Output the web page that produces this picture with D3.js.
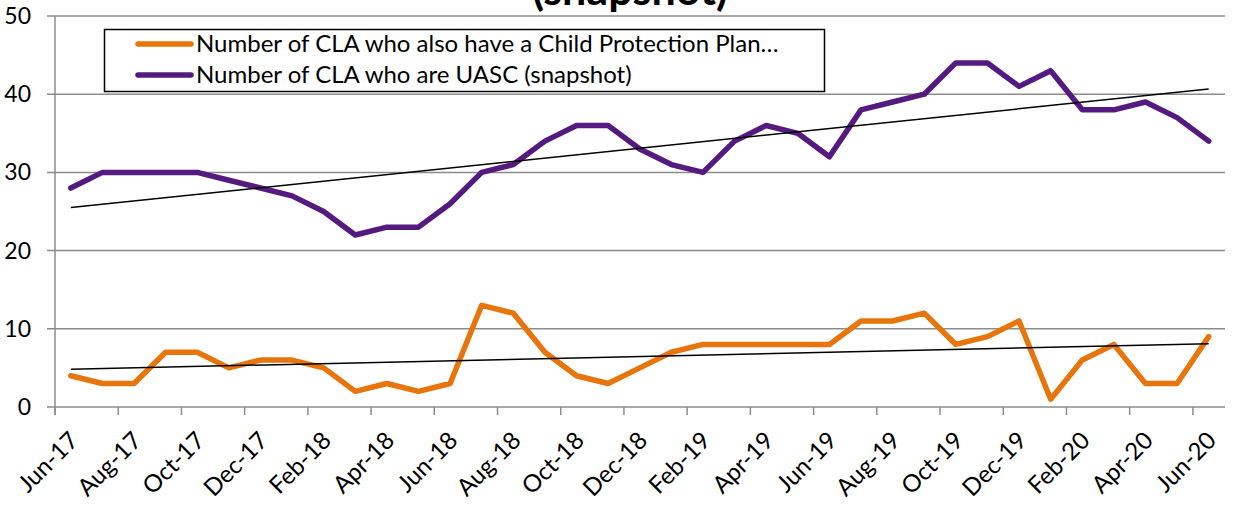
<!DOCTYPE html>
<html><head><meta charset="utf-8">
<script src="https://cdn.jsdelivr.net/npm/d3@7"></script>
<style>body{margin:0;background:#fff;} text{font-family:Lato,"Open Sans",sans-serif;}</style>
</head><body><svg id="c" width="1238" height="505"></svg>
<script>
const months = ["Jun-17","Jul-17","Aug-17","Sep-17","Oct-17","Nov-17","Dec-17","Jan-18","Feb-18","Mar-18","Apr-18","May-18","Jun-18","Jul-18","Aug-18","Sep-18","Oct-18","Nov-18","Dec-18","Jan-19","Feb-19","Mar-19","Apr-19","May-19","Jun-19","Jul-19","Aug-19","Sep-19","Oct-19","Nov-19","Dec-19","Jan-20","Feb-20","Mar-20","Apr-20","May-20","Jun-20"];
const cppValues = [4,3,3,7,7,5,6,6,5,2,3,2,3,13,12,7,4,3,5,7,8,8,8,8,8,11,11,12,8,9,11,1,6,8,3,3,9];
const uascValues = [28,30,30,30,30,29,28,27,25,22,23,23,26,30,31,34,36,36,33,31,30,34,36,35,32,38,39,40,44,44,41,43,38,38,39,37,34];
const seriesNames = ["Number of CLA who also have a Child Protection Plan…","Number of CLA who are UASC (snapshot)"];
const yTicks = [0,10,20,30,40,50];
const titleText = "(snapshot)";

const svg = d3.select("#c");
const x = d3.scaleBand().domain(months).range([55,1224.5]).paddingInner(0).paddingOuter(0);
const y = d3.scaleLinear().domain([0,50]).range([407,16]);
const cx = m => x(m) + x.bandwidth()/2;

// gridlines
svg.append("g").selectAll("line").data(yTicks).join("line")
  .attr("x1",47).attr("x2",1225).attr("y1",d=>y(d)).attr("y2",d=>y(d))
  .attr("stroke","#8c8c8c").attr("stroke-width",1.5);
// y axis line
svg.append("line").attr("x1",55).attr("x2",55).attr("y1",y(50)).attr("y2",y(0)+8)
  .attr("stroke","#8c8c8c").attr("stroke-width",1.5);
// x ticks
const tickMonths = months.filter((m,i)=>i%2===0);
svg.append("g").selectAll("line").data(tickMonths).join("line")
  .attr("x1",d=>x(d)).attr("x2",d=>x(d)).attr("y1",y(0)).attr("y2",y(0)+8)
  .attr("stroke","#8c8c8c").attr("stroke-width",1.5);
// y labels
svg.append("g").selectAll("text").data(yTicks).join("text")
  .attr("x",31).attr("y",d=>y(d)+8).attr("text-anchor","end")
  .attr("font-size",23).attr("fill","#000").text(d=>d);
// x labels
svg.append("g").selectAll("text").data(tickMonths).join("text")
  .attr("transform",d=>`translate(${cx(d)+9},${y(0)+35}) rotate(-45)`)
  .attr("text-anchor","end").attr("font-size",24).attr("fill","#000").text(d=>d);

// trend lines
function trend(vals){
  const n=vals.length, xs=d3.range(n);
  const mx=d3.mean(xs), my=d3.mean(vals);
  const b=d3.sum(xs.map((xi,i)=>(xi-mx)*(vals[i]-my)))/d3.sum(xs.map(xi=>(xi-mx)**2));
  const a=my-b*mx;
  return [[0,a],[n-1,a+b*(n-1)]];
}
const line = d3.line().x((d,i)=>cx(months[i])).y(d=>y(d));
[[cppValues,"#e8740c"],[uascValues,"#541a80"]].forEach(([vals,col])=>{
  svg.append("path").datum(vals).attr("d",line).attr("fill","none")
    .attr("stroke",col).attr("stroke-width",5.5).attr("stroke-linejoin","round").attr("stroke-linecap","round");
});
[cppValues,uascValues].forEach(vals=>{
  const t=trend(vals);
  svg.append("line").attr("x1",cx(months[t[0][0]])).attr("y1",y(t[0][1]))
    .attr("x2",cx(months[t[1][0]])).attr("y2",y(t[1][1]))
    .attr("stroke","#000").attr("stroke-width",1.5);
});

// legend
svg.append("rect").attr("x",104.5).attr("y",29.5).attr("width",720).attr("height",62)
  .attr("fill","#fff").attr("stroke","#000").attr("stroke-width",1.5);
const legCols=["#e8740c","#541a80"];
seriesNames.forEach((nm,i)=>{
  const ly=44+i*31;
  svg.append("line").attr("x1",138).attr("x2",191).attr("y1",ly).attr("y2",ly)
    .attr("stroke",legCols[i]).attr("stroke-width",5.5).attr("stroke-linecap","round");
  svg.append("text").attr("x",196).attr("y",ly+8).attr("font-size",24).attr("fill","#000").text(nm);
});

// title (cut off at top, as in the original)
svg.append("text").attr("x",630).attr("y",5).attr("text-anchor","middle")
  .attr("font-size",43).attr("font-weight","bold").attr("fill","#000").text(titleText);
</script></body></html>
